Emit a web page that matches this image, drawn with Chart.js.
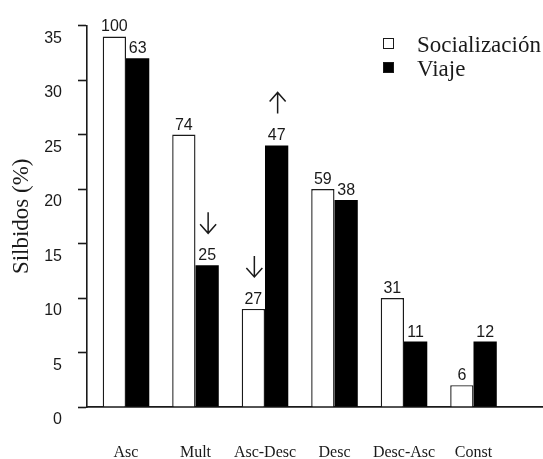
<!DOCTYPE html>
<html><head><meta charset="utf-8">
<script src="https://cdn.jsdelivr.net/npm/chart.js@4.4.0/dist/chart.umd.min.js"></script>
<style>html,body{margin:0;padding:0;background:#fff}</style>
</head><body>
<canvas id="c" width="543" height="459"></canvas>
<script>
const categories = ['Asc', 'Mult', 'Asc-Desc', 'Desc', 'Desc-Asc', 'Const'];
const seriesNames = ['Socialización', 'Viaje'];
const socializacion = [34, 25, 9, 20, 10, 2];
const viaje = [32, 13, 24, 19, 6, 6];
const socCounts = [100, 74, 27, 59, 31, 6];
const viajeCounts = [63, 25, 47, 38, 11, 12];
const yTicks = [0, 5, 10, 15, 20, 25, 30, 35];
const arrows = [
  { cat: 1, series: 1, dir: 'down' },
  { cat: 2, series: 0, dir: 'down' },
  { cat: 2, series: 1, dir: 'up' }
];

const counts = [socCounts, viajeCounts];
const INK = '#1a1a1a';

const labelPlugin = {
  id: 'barLabels',
  afterDatasetsDraw(chart) {
    const ctx = chart.ctx;
    ctx.save();
    ctx.font = '16px "Liberation Sans", Arial, sans-serif';
    ctx.fillStyle = INK;
    ctx.textAlign = 'center';
    ctx.textBaseline = 'alphabetic';
    chart.data.datasets.forEach((ds, di) => {
      const meta = chart.getDatasetMeta(di);
      meta.data.forEach((bar, i) => {
        ctx.fillText(String(counts[di][i]), bar.x, bar.y - 5);
      });
    });
    ctx.strokeStyle = INK;
    ctx.lineWidth = 1.5;
    arrows.forEach(a => {
      const bar = chart.getDatasetMeta(a.series).data[a.cat];
      const x = bar.x + 1;
      const yb = bar.y - 32, yt = bar.y - 53;
      ctx.beginPath();
      ctx.moveTo(x, yt); ctx.lineTo(x, yb);
      if (a.dir === 'down') {
        ctx.moveTo(x - 8, yb - 9); ctx.lineTo(x, yb); ctx.lineTo(x + 8, yb - 9);
      } else {
        ctx.moveTo(x - 8, yt + 9); ctx.lineTo(x, yt); ctx.lineTo(x + 8, yt + 9);
      }
      ctx.stroke();
    });
    ctx.restore();
  }
};

const legendPlugin = {
  id: 'customLegend',
  afterDraw(chart) {
    const ctx = chart.ctx;
    ctx.save();
    ctx.font = '23px "Liberation Serif", "Times New Roman", serif';
    ctx.textAlign = 'left';
    ctx.textBaseline = 'alphabetic';
    chart.data.datasets.forEach((ds, i) => {
      const by = 38 + i * 24;
      ctx.fillStyle = ds.backgroundColor;
      ctx.fillRect(383, by, 11, 11);
      ctx.strokeStyle = INK;
      ctx.lineWidth = 1;
      ctx.strokeRect(383.5, by + 0.5, 10, 10);
      ctx.fillStyle = INK;
      ctx.fillText(ds.label, 417, by + 14);
    });
    ctx.restore();
  }
};

new Chart(document.getElementById('c'), {
  type: 'bar',
  data: {
    datasets: [
      {
        label: seriesNames[0],
        data: categories.map((c, i) => ({ x: i, y: socializacion[i] })),
        backgroundColor: '#ffffff',
        borderColor: '#1a1a1a',
        borderWidth: 1.4
      },
      {
        label: seriesNames[1],
        data: categories.map((c, i) => ({ x: i, y: viaje[i] })),
        backgroundColor: '#000000',
        borderColor: '#000000',
        borderWidth: 0
      }
    ]
  },
  options: {
    responsive: false,
    animation: false,
    devicePixelRatio: 1,
    categoryPercentage: 0.67,
    barPercentage: 1.0,
    layout: { padding: { left: 0, right: 0, top: 21, bottom: 0 } },
    plugins: { legend: { display: false }, tooltip: { enabled: false } },
    scales: {
      x: {
        type: 'linear',
        min: -0.561,
        max: 6.0,
        offset: false,
        grid: { display: false, drawTicks: false, offset: false },
        border: { display: true, color: INK, width: 1.8 },
        afterBuildTicks: s => { s.ticks = categories.map((c, i) => ({ value: i })); },
        afterFit: s => { s.height = 52; },
        ticks: {
          autoSkip: false,
          maxRotation: 0,
          padding: 36,
          color: INK,
          font: { family: '"Liberation Serif", "Times New Roman", serif', size: 16 },
          callback: v => categories[v]
        }
      },
      y: {
        min: 0,
        max: 35,
        afterBuildTicks: s => { s.ticks = yTicks.map(v => ({ value: v })); },
        afterFit: s => { s.width = 87; },
        grid: { drawOnChartArea: false, drawTicks: true, tickLength: 9, color: INK, tickWidth: 1.6 },
        border: { display: true, color: INK, width: 1.6 },
        ticks: {
          padding: 16,
          labelOffset: 13,
          color: INK,
          font: { family: '"Liberation Sans", Arial, sans-serif', size: 16 }
        },
        title: {
          display: true,
          text: 'Silbidos (%)',
          color: INK,
          padding: { top: 10.5, bottom: 0 },
          font: { family: '"Liberation Serif", "Times New Roman", serif', size: 23, lineHeight: 1 }
        }
      }
    }
  },
  plugins: [labelPlugin, legendPlugin]
});
</script>
</body></html>
